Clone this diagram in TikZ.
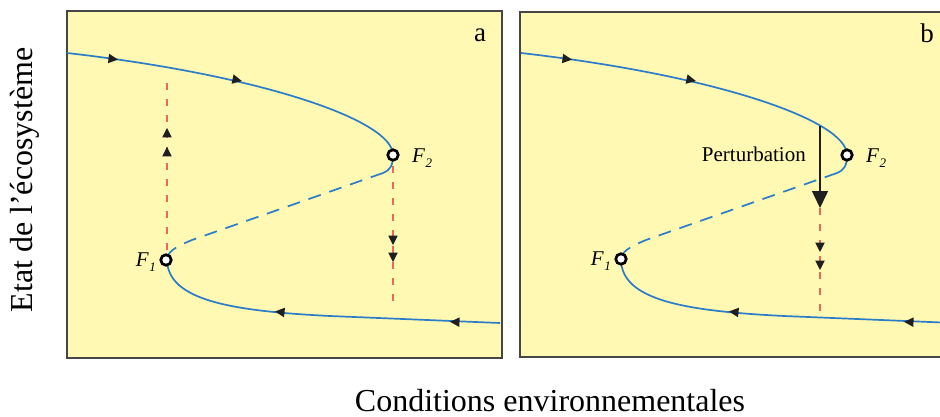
\documentclass[tikz,border=0pt]{standalone}
\usepackage{fontspec}
\setmainfont{Liberation Serif}
\usetikzlibrary{arrows.meta}
\definecolor{bgyellow}{RGB}{255,249,180}
\definecolor{curveblue}{RGB}{44,124,200}
\definecolor{jumpred}{RGB}{236,104,90}
\definecolor{framegray}{RGB}{70,70,70}
\newcommand\flab[1]{\textit{F}\kern0.5pt\raisebox{-0.45ex}{\fontsize{13}{13}\selectfont\textit{#1}}}
\begin{document}
\begin{tikzpicture}[x=1pt,y=-1pt,
  panel/.style={fill=bgyellow,draw=framegray,line width=1.6pt},
  branch/.style={draw=curveblue,line width=1.7pt},
  unstable/.style={branch,dash pattern=on 13pt off 9pt},
  jump/.style={draw=jumpred,line width=1.6pt,dash pattern=on 7pt off 9pt},
  fold/.style={circle,draw=black,fill=white,line width=2.7pt,minimum size=10.5pt,inner sep=0pt},
  tri/.pic={\fill[black!88] (5,0) -- (-4.5,4.8) -- (-4.5,-4.8) -- cycle;},
  flabel/.style={font=\fontsize{21}{24}\selectfont,inner sep=0pt},
  panlabel/.style={font=\fontsize{27}{30}\selectfont,inner sep=0pt},
  axlabel/.style={font=\fontsize{32}{36}\selectfont,inner sep=0pt}]
\useasboundingbox (0,0) rectangle (940,417);
\clip (0,0) rectangle (940,417);
\fill[white] (0,0) rectangle (940,417);
% panels
\path[panel] (67,11) rectangle (502,358);
\path[panel] (520,12) rectangle (960,357);
% curves in both panels
\foreach \s in {0,454}{
\begin{scope}[xshift=\s pt]
  \coordinate (up0) at (67,53);
  \coordinate (F2) at (393,155);
  \coordinate (m1) at (383,173);
  \coordinate (m2) at (192,240);
  \coordinate (F1) at (167,260);
  \coordinate (lo1) at (330,316);
  \coordinate (lo2) at (500,323);
  \draw[branch] (up0) .. controls (260,75) and (393,120) .. (F2)
                      .. controls (393,166) and (390,170) .. (m1);
  \draw[unstable] (m1) -- (m2) .. controls (175,247) and (167,252) .. (F1);
  \draw[branch] (F1) .. controls (168,300) and (230,311) .. (lo1) -- (lo2);
  \pic[rotate=-7] at (113,59) {tri};
  \pic[rotate=-12] at (237,80) {tri};
  \pic[rotate=174] at (280,312) {tri};
  \pic[rotate=178] at (455,322) {tri};
\end{scope}
}
% panel a jumps
\coordinate (ja1) at (167,78);
\coordinate (ja0) at (167,250);
\coordinate (jb0) at (393,166);
\coordinate (jb1) at (393,308);
\draw[jump] (ja0) -- (ja1);
\draw[jump] (jb0) -- (jb1);
\pic[rotate=90] at (167,133) {tri};
\pic[rotate=90] at (167,152) {tri};
\pic[rotate=-90] at (393,240) {tri};
\pic[rotate=-90] at (393,257) {tri};
% panel b perturbation
\coordinate (p0) at (820,126);
\coordinate (p1) at (820,208);
\coordinate (p2) at (820,316);
\draw[jump] (p1) -- (p2);
\draw[black!88,line width=1.5pt,-{Triangle[length=17pt,width=16pt]}] (p0) -- (p1);
\pic[rotate=-90] at (820,247) {tri};
\pic[rotate=-90] at (820,265) {tri};
\node[anchor=east,font=\fontsize{21}{24}\selectfont,inner sep=0pt] (pert) at (806,154) {Perturbation};
% fold points
\node[fold] (F1a) at (166,260) {};
\node[fold] (F2a) at (393,155) {};
\node[fold] (F1b) at (621,259) {};
\node[fold] (F2b) at (847,155) {};
\node[flabel,anchor=east] (lF1a) at (156,262) {\flab{1}};
\node[flabel,anchor=west] (lF2a) at (412,158) {\flab{2}};
\node[flabel,anchor=east] (lF1b) at (611,261) {\flab{1}};
\node[flabel,anchor=west] (lF2b) at (866,158) {\flab{2}};
% panel letters
\node[panlabel] (la) at (480,35) {a};
\node[panlabel] (lb) at (927,33) {b};
% axis labels
\node[axlabel,rotate=90] (ylab) at (25,180) {Etat de l’écosystème};
\node[axlabel,anchor=base] (xlab) at (550,411) {Conditions environnementales};
\end{tikzpicture}
\end{document}
